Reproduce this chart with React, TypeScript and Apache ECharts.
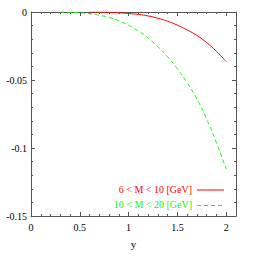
import React, { useEffect, useRef } from "react";
import * as echarts from "echarts";

const xRed = [0.6, 0.7, 0.8, 0.9, 1.0, 1.1, 1.2, 1.3, 1.4, 1.5, 1.6, 1.7, 1.8, 1.9, 2.0];
const yRed = [0, -0.0001, -0.0003, -0.0006, -0.0011, -0.0018, -0.0029, -0.0046, -0.0068, -0.0097, -0.0132, -0.0173, -0.0225, -0.0290, -0.0365];
const xGreen = [0.3, 0.4, 0.5, 0.6, 0.7, 0.8, 0.9, 1.0, 1.1, 1.2, 1.3, 1.4, 1.5, 1.6, 1.7, 1.8, 1.9, 2.0];
const yGreen = [0, -0.0002, -0.0006, -0.0013, -0.0024, -0.0040, -0.0065, -0.0098, -0.0140, -0.0192, -0.0256, -0.0330, -0.0418, -0.0520, -0.0640, -0.0788, -0.0963, -0.1155];
const seriesNames = ["6 < M < 10 [GeV]", "10 < M < 20 [GeV]"];
const xTickLabels = ["0", "0.5", "1", "1.5", "2"];
const yTickLabels = ["0", "-0.05", "-0.1", "-0.15"];

const FONT = "'Liberation Serif', 'DejaVu Serif', serif";
const AXIS = "#555";

export default function App() {
  const ref = useRef<HTMLDivElement>(null);
  useEffect(() => {
    const chart = echarts.init(ref.current!, null, { renderer: "svg" });
    const xLab = (v: number) => {
      const i = Math.round(v / 0.5);
      return Math.abs(v - i * 0.5) < 1e-6 && xTickLabels[i] !== undefined ? xTickLabels[i] : "";
    };
    const yLab = (v: number) => {
      const i = Math.round(-v / 0.05);
      return Math.abs(-v - i * 0.05) < 1e-6 && yTickLabels[i] !== undefined ? yTickLabels[i] : "";
    };
    const axisCommon = {
      type: "value" as const,
      axisLine: { show: true, onZero: false, lineStyle: { color: AXIS, width: 1 } },
      axisTick: { show: true, inside: true, length: 4, lineStyle: { color: AXIS } },
      minorTick: { show: true, splitNumber: 5, length: 2, lineStyle: { color: AXIS } },
      splitLine: { show: false },
    };
    chart.setOption({
      animation: false,
      backgroundColor: "#fff",
      grid: { left: 31, top: 12, right: 27, bottom: 42, containLabel: false },
      xAxis: [
        {
          ...axisCommon,
          position: "bottom",
          min: 0,
          max: 2.1,
          interval: 0.5,
          name: "y",
          nameLocation: "middle",
          nameGap: 22,
          nameTextStyle: { fontFamily: FONT, fontSize: 11, color: "#000" },
          axisLabel: { formatter: xLab, fontFamily: FONT, fontSize: 10, color: "#000", margin: 6, showMaxLabel: false },
        },
        {
          ...axisCommon,
          position: "top",
          min: 0,
          max: 2.1,
          interval: 0.5,
          axisLabel: { show: false },
        },
      ],
      yAxis: [
        {
          ...axisCommon,
          position: "left",
          min: -0.15,
          max: 0,
          interval: 0.05,
          axisLabel: { formatter: yLab, fontFamily: FONT, fontSize: 10, color: "#000", margin: 4 },
        },
        {
          ...axisCommon,
          position: "right",
          min: -0.15,
          max: 0,
          interval: 0.05,
          axisLabel: { show: false },
        },
      ],
      series: [
        {
          name: seriesNames[0],
          type: "line",
          data: xRed.map((x, i) => [x, yRed[i]]),
          smooth: true,
          showSymbol: false,
          lineStyle: { color: "#ff0000", width: 1 },
        },
        {
          name: seriesNames[1],
          type: "line",
          data: xGreen.map((x, i) => [x, yGreen[i]]),
          smooth: true,
          showSymbol: false,
          lineStyle: { color: "#00ff00", width: 1, type: [4, 3] },
        },
      ],
      graphic: [
        {
          type: "text",
          right: 263 - 192,
          top: 184,
          style: { text: seriesNames[0], fill: "#ff0000", font: `10px ${FONT}`, textAlign: "right" },
        },
        {
          type: "line",
          shape: { x1: 197, y1: 190, x2: 224, y2: 190 },
          style: { stroke: "#ff0000", lineWidth: 1 },
        },
        {
          type: "text",
          right: 263 - 192,
          top: 199.5,
          style: { text: seriesNames[1], fill: "#00ff00", font: `10px ${FONT}`, textAlign: "right" },
        },
        {
          type: "line",
          shape: { x1: 197, y1: 205.5, x2: 224, y2: 205.5 },
          style: { stroke: "#00ff00", lineWidth: 1, lineDash: [4, 3] },
        },
      ],
    });
    return () => chart.dispose();
  }, []);
  return <div ref={ref} style={{ width: 263, height: 258, position: "absolute", left: 0, top: 0 }} />;
}
